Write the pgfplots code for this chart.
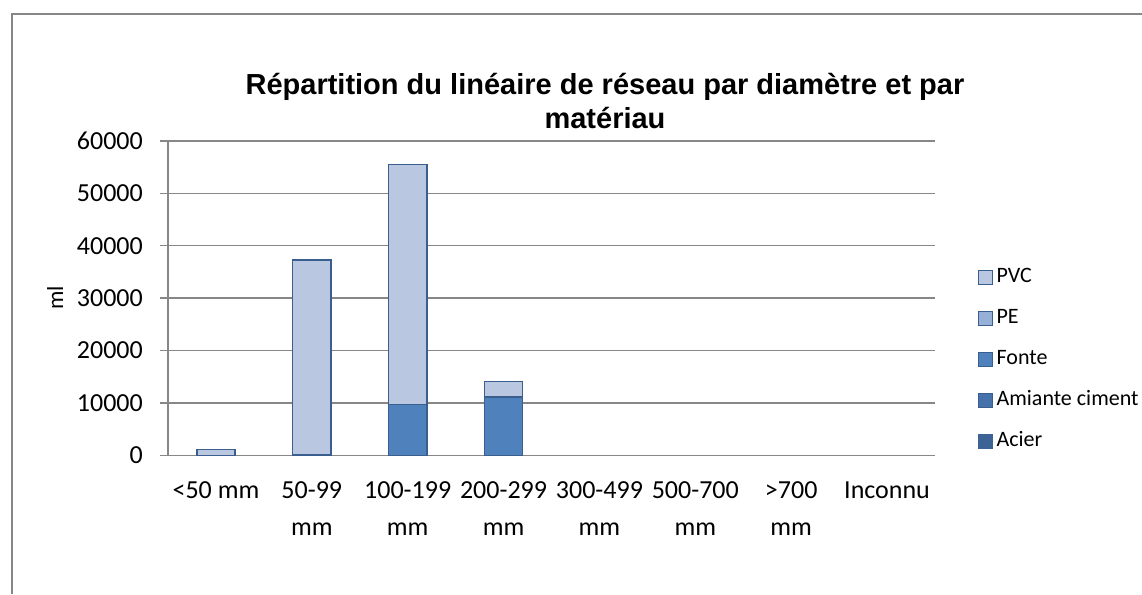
\documentclass[border=0pt]{standalone}
\usepackage{pgfplots}
\pgfplotsset{compat=1.18}
\usepackage{fontspec}
\setmainfont{Carlito}
\newfontfamily\titlefont{Liberation Sans}
\definecolor{gridgray}{HTML}{878787}
\definecolor{edge}{HTML}{3A5F8E}
\definecolor{cPVC}{HTML}{B9C7E0}
\definecolor{cPE}{HTML}{97B0D8}
\definecolor{cFonte}{HTML}{4F81BD}
\definecolor{cAmiante}{HTML}{4672AC}
\definecolor{cAcier}{HTML}{3C6296}
\begin{document}
\begin{tikzpicture}
\useasboundingbox (0pt,0pt) rectangle (1142pt,594pt);
\draw[gridgray, line width=1.5pt] (12pt,0pt) -- (12pt,580pt) -- (1142pt,580pt);
\node[font=\titlefont\bfseries\fontsize{29}{34}\selectfont, anchor=base, inner sep=0pt] at (605pt,499pt)
  {Répartition du linéaire de réseau par diamètre et par};
\node[font=\titlefont\bfseries\fontsize{29}{34}\selectfont, anchor=base, inner sep=0pt] at (605pt,465pt)
  {matériau};
\begin{axis}[
  at={(168pt,138.7pt)}, anchor=south west,
  scale only axis, width=767pt, height=314.3pt,
  ybar stacked, bar width=0.4,
  xmin=-0.5, xmax=7.5, ymin=0, ymax=60000,
  axis x line=bottom, axis y line=left,
  axis line style={-, gridgray, line width=1.4pt},
  tick align=outside, major tick length=8pt,
  every tick/.style={gridgray, line width=1.4pt},
  ytick={0,10000,...,60000},
  ymajorgrids, grid style={gridgray, line width=1.4pt},
  scaled y ticks=false,
  yticklabel style={font=\fontsize{26}{30}\selectfont, inner sep=0pt, anchor=east, xshift=-17pt},
  /pgf/number format/assume math mode=true,
  /pgf/number format/1000 sep={},
  xtick={0,...,7},
  xticklabels={{<50 mm},{50-99\\mm},{100-199\\mm},{200-299\\mm},{300-499\\mm},{500-700\\mm},{>700\\mm},{Inconnu}},
  xticklabel style={font=\fontsize{26}{37}\selectfont, align=center, inner sep=0pt, anchor=north, yshift=-18pt},
  major x tick style={draw=none},
  extra x ticks={-0.5,0.5,1.5,2.5,3.5,4.5,5.5,6.5,7.5},
  extra x tick labels={},
  extra x tick style={grid=none, major tick style={draw=gridgray, line width=1.4pt}},
  ylabel={ml},
  every axis y label/.style={at={(axis description cs:-0.147,0.5)}, rotate=90, anchor=center, font=\fontsize{23}{27}\selectfont},
  legend cell align=left,
  legend style={at={(1.056,0.597)}, anchor=north west, draw=none, fill=none,
    font=\fontsize{22}{26}\selectfont, row sep=21pt, inner sep=0pt,
    nodes={inner sep=0pt, text height=15pt, text depth=5pt}},
  legend image code/.code={\draw[#1, line width=0.8pt] (0pt,-7pt) rectangle (14pt,7pt);},
]
\addlegendimage{fill=cPVC, draw=edge}
\addlegendentry{\,PVC}
\addlegendimage{fill=cPE, draw=edge}
\addlegendentry{\,PE}
\addlegendimage{fill=cFonte, draw=edge}
\addlegendentry{\,Fonte}
\addlegendimage{fill=cAmiante, draw=edge}
\addlegendentry{\,Amiante ciment}
\addlegendimage{fill=cAcier, draw=cAcier}
\addlegendentry{\,Acier}
% Fonte
\addplot[fill=cFonte, draw=edge, line width=1.5pt, forget plot] coordinates {(0,0) (1,200) (2,9730) (3,11150)};
% PVC
\addplot[fill=cPVC, draw=edge, line width=1.5pt, forget plot] coordinates {(0,1150) (1,37050) (2,45800) (3,2950)};
\end{axis}
\end{tikzpicture}
\end{document}
